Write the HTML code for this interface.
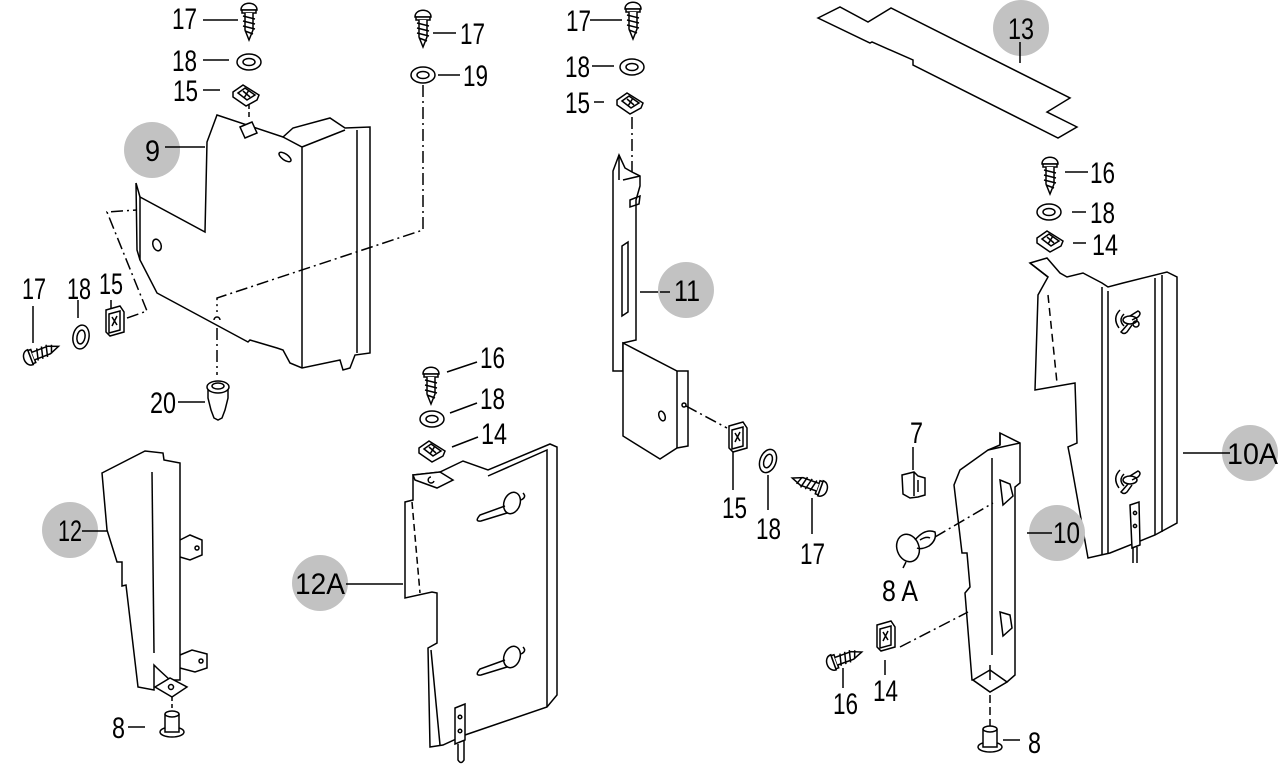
<!DOCTYPE html>
<html><head><meta charset="utf-8"><style>
html,body{margin:0;padding:0;background:#fff;}
svg{display:block;}
text{font-family:"Liberation Sans",sans-serif;font-size:30px;fill:#000;}
</style></head><body>
<svg width="1280" height="768" viewBox="0 0 1280 768" xmlns="http://www.w3.org/2000/svg">
<defs>
<g id="sv" stroke="#000" stroke-width="1.5" fill="#fff">
<path d="M-8,8 C-8,-1 8,-1 8,8 Z"/>
<rect x="-7" y="8" width="14" height="3"/>
<path d="M-4,11 L-4,28 L0,38 L4,28 L4,11"/>
<path d="M-6,14 L6,17 M-6,19 L6,22 M-6,24 L6,27 M-4,29 L4,32" fill="none"/>
</g>
<g id="w" stroke="#000" stroke-width="1.5" fill="#fff">
<ellipse rx="12" ry="8"/><ellipse rx="6" ry="3.5"/>
</g>
<g id="c" stroke="#000" stroke-width="1.5" fill="#fff">
<path d="M-13,-3 L-3,-10 L13,0 L11,5 L0,11 L-13,2 Z"/>
<path d="M-8,-2 L-1,-7 L9,0 L1,5 Z"/>
<path d="M-3,-4 L4,2 M3,-5 L-2,3" fill="none"/>
</g>
<g id="cf" stroke="#000" stroke-width="1.5" fill="#fff">
<path d="M-9,-12 L5,-16 L9,-10 L9,10 L-5,14 L-9,10 Z"/>
<path d="M-6,-8 L5,-11 L5,8 L-6,11 Z"/>
<path d="M-3,-5 L2,3 M2,-6 L-3,4" fill="none"/>
</g>
<g id="p8" stroke="#000" stroke-width="1.5" fill="#fff">
<ellipse cx="0" cy="12" rx="12" ry="5"/>
<path d="M-7,-6 L-7,12 L7,12 L7,-6"/>
<ellipse cx="0" cy="-6" rx="7" ry="3"/>
</g>
</defs>

<g stroke="#000" stroke-width="1.5" fill="none">
<!-- ============ Part 9 group ============ -->
<path d="M217,115 L283,137 L293,128 L330,118 L345,128 L370,127 L370,353 L355,355 L350,368 L343,370 L340,360 L302,368 L290,363 L283,350 L277,348 L250,340 L248,342 L157,293 L140,260 L140,197 L205,232 L207,142 Z" fill="#fff"/>
<path d="M136,183 L140,197 M136,183 L137,250 L140,260"/>
<path d="M302,147 L302,368 M357,130 L357,353 M283,137 L302,147 L345,130"/>
<path d="M240,127 L252,122 L257,133 L245,138 Z" fill="#fff"/>
<ellipse cx="285" cy="157" rx="7" ry="3" transform="rotate(35 285 157)"/>
<ellipse cx="157" cy="245" rx="4" ry="6" transform="rotate(-20 157 245)"/>
<path d="M214,320 a3,3 0 1 1 6,0"/>
<!-- dash lines 9 -->
<path d="M423,85 L423,230 L217,298 L217,312" stroke-dasharray="12 4 2 4"/>
<path d="M249,104 L249,117" stroke-dasharray="5 3"/>
<path d="M217,328 L217,375" stroke-dasharray="12 4 2 4"/>
<path d="M127,318 L147,311 L107,212 L137,210" stroke-dasharray="12 4 2 4"/>
<!-- top fasteners -->
<use href="#sv" transform="translate(249,2)"/>
<line x1="203" y1="20" x2="238" y2="20"/>
<use href="#w" transform="translate(249,62)"/>
<line x1="203" y1="60" x2="229" y2="60"/>
<use href="#c" transform="translate(246,95)"/>
<line x1="203" y1="90" x2="220" y2="90"/>
<use href="#sv" transform="translate(423,9)"/>
<line x1="433" y1="33" x2="456" y2="33"/>
<use href="#w" transform="translate(423,75)"/>
<line x1="438" y1="75" x2="460" y2="75"/>
<line x1="165" y1="147" x2="205" y2="147"/>
<!-- left fasteners -->
<use href="#sv" transform="translate(23,360) rotate(-111)"/>
<line x1="33" y1="306" x2="33" y2="343"/>
<ellipse cx="81" cy="337" rx="8" ry="12" transform="rotate(10 81 337)" fill="#fff"/>
<ellipse cx="81" cy="337" rx="4" ry="7" transform="rotate(10 81 337)"/>
<line x1="78" y1="300" x2="78" y2="318"/>
<use href="#cf" transform="translate(115,322)"/>
<line x1="111" y1="300" x2="111" y2="308"/>
<!-- 20 -->
<line x1="178" y1="402" x2="205" y2="402"/>
<path d="M208,387 L208,398 L211,410 L214,418 L218,420 L222,418 L225,410 L228,398 L228,387" fill="#fff"/>
<ellipse cx="218" cy="387" rx="11" ry="6" fill="#fff"/>
<ellipse cx="218" cy="386" rx="6" ry="3"/>

<!-- ============ Part 12 ============ -->
<path d="M102,473 L145,451 L163,453 L164,460 L180,463 L180,680 L170,680 L157,668 L154,665 L154,690 L138,687 L126,585 L122,586 L122,562 L117,562 L107,530 Z" fill="#fff"/>
<path d="M152,472 L154,653"/>
<path d="M180,540 L190,535 L202,540 L202,555 L190,560 L180,557"/>
<circle cx="197" cy="548" r="2"/>
<path d="M180,655 L192,650 L207,654 L207,668 L195,672 L180,668"/>
<circle cx="201" cy="661" r="2"/>
<path d="M155,687 L170,678 L187,687 L172,697 Z" fill="#fff"/>
<circle cx="171" cy="687" r="2.5"/>
<path d="M172,697 L172,708" stroke-dasharray="4 3"/>
<use href="#p8" transform="translate(172,720)"/>
<line x1="128" y1="727" x2="145" y2="727"/>
<line x1="78" y1="531" x2="107" y2="531"/>

<!-- ============ Part 12A ============ -->
<path d="M413,475 L440,472 L463,461 L488,470 L550,444 L557,447 L557,695 L547,707 L465,735 L443,745 L430,747 L428,648 L437,643 L437,593 L432,592 L405,598 L405,502 L413,500 Z" fill="#fff"/>
<path d="M488,476 L547,450 L547,707"/>
<path d="M431,650 L440,745"/>
<path d="M412,502 L420,593" stroke-dasharray="7 4"/>
<path d="M413,475 L440,472 L453,480 L437,488 L415,480 Z" fill="#fff"/>
<path d="M431,477 a3,3 0 1 0 3,4"/>
<!-- keyholes -->
<ellipse cx="512" cy="503" rx="8" ry="11" transform="rotate(20 512 503)" fill="#fff"/>
<path d="M505,506 L480,515 Q474,522 481,521 L507,513"/>
<path d="M523,493 q4,4 -2,7"/>
<ellipse cx="512" cy="657" rx="8" ry="11" transform="rotate(20 512 657)" fill="#fff"/>
<path d="M505,660 L480,669 Q474,676 481,675 L507,667"/>
<path d="M523,647 q4,4 -2,7"/>
<!-- strap -->
<path d="M455,708 L465,704 L465,740 L455,744 Z" fill="#fff"/>
<circle cx="460" cy="717" r="1.8"/><circle cx="460" cy="731" r="1.8"/>
<path d="M458,744 L458,760 Q461,765 464,760 L464,740"/>
<line x1="348" y1="584" x2="403" y2="584"/>
<!-- 12A fasteners -->
<use href="#sv" transform="translate(431,366)"/>
<line x1="447" y1="372" x2="477" y2="362"/>
<use href="#w" transform="translate(432,419)"/>
<line x1="450" y1="413" x2="477" y2="403"/>
<use href="#c" transform="translate(432,451)"/>
<line x1="452" y1="447" x2="478" y2="437"/>

<!-- ============ Part 11 ============ -->
<path d="M613,171 L619,155 L625,168 L632,172 L640,176 L640,186 L636,200 L636,340 L623,343 L623,371 L613,371 Z" fill="#fff"/>
<path d="M619,155 L619,180 M623,180 L640,176 M630,200 L640,196 L639,204 L630,207 Z"/>
<path d="M622,246 L628,242 L628,312 L622,316 Z"/>
<path d="M623,343 L677,371 L688,371 L688,446 L677,448 L660,459 L623,436 Z" fill="#fff"/>
<path d="M677,371 L677,448"/>
<ellipse cx="662" cy="416" rx="3" ry="5" transform="rotate(-20 662 416)"/>
<circle cx="684" cy="405" r="2"/>
<path d="M686,406 L727,428" stroke-dasharray="12 4 2 4"/>
<path d="M632,117 L632,172" stroke-dasharray="12 4 2 4"/>
<line x1="640" y1="292" x2="670" y2="292"/>
<use href="#sv" transform="translate(633,1)"/>
<line x1="590" y1="20" x2="622" y2="20"/>
<use href="#w" transform="translate(632,67)"/>
<line x1="592" y1="66" x2="614" y2="66"/>
<use href="#c" transform="translate(630,103)"/>
<line x1="594" y1="102" x2="604" y2="102"/>
<use href="#cf" transform="translate(738,438)"/>
<line x1="733" y1="452" x2="733" y2="490"/>
<ellipse cx="768" cy="461" rx="8" ry="12" transform="rotate(20 768 461)" fill="#fff"/>
<ellipse cx="768" cy="461" rx="4" ry="7" transform="rotate(20 768 461)"/>
<line x1="768" y1="475" x2="768" y2="510"/>
<use href="#sv" transform="translate(828,491) rotate(110)"/>
<line x1="812" y1="498" x2="812" y2="534"/>

<!-- ============ Part 13 ============ -->
<path d="M818,18 L840,7 L868,22 L891,8 L1070,98 L1047,112 L1077,127 L1058,138 L913,65 L913,60 L872,42 L870,43 Z" fill="#fff"/>
<line x1="1020" y1="42" x2="1020" y2="63"/>

<!-- ============ Part 10A ============ -->
<path d="M1030,263 L1047,258 L1060,273 L1067,277 L1083,273 L1102,283 L1108,287 L1123,283 L1167,272 L1177,277 L1177,523 L1155,535 L1110,553 L1088,558 L1070,457 L1068,447 L1077,443 L1075,383 L1035,390 L1038,295 L1048,277 Z" fill="#fff"/>
<path d="M1030,263 L1048,277"/>
<path d="M1102,287 L1102,555 M1108,291 L1108,553 M1155,278 L1155,535 M1162,275 L1162,532"/>
<path d="M1048,295 L1057,383" stroke-dasharray="8 5"/>
<!-- wing screws -->
<path d="M1120,310 q-8,8 -1,18 M1124,314 q-6,6 0,12" />
<ellipse cx="1130" cy="320" rx="7" ry="4" fill="#fff"/>
<path d="M1130,316 l8,-5 q4,2 0,6 l-6,3 M1128,324 l-7,8 q3,3 6,0 l5,-7"/>
<circle cx="1136" cy="324" r="3"/>
<path d="M1120,470 q-8,8 -1,18 M1124,474 q-6,6 0,12"/>
<ellipse cx="1130" cy="480" rx="7" ry="4" fill="#fff"/>
<path d="M1130,476 l8,-5 q4,2 0,6 l-6,3 M1128,484 l-7,8 q3,3 6,0 l5,-7"/>
<!-- strap -->
<path d="M1130,505 L1139,502 L1140,545 L1132,548 Z" fill="#fff"/>
<circle cx="1135" cy="513" r="1.6"/><circle cx="1135" cy="526" r="1.6"/>
<path d="M1133,548 L1133,563 M1137,547 L1137,563"/>
<line x1="1183" y1="453" x2="1222" y2="453"/>
<!-- 10A fasteners -->
<use href="#sv" transform="translate(1050,156)"/>
<line x1="1065" y1="172" x2="1088" y2="172"/>
<use href="#w" transform="translate(1049,212)"/>
<line x1="1072" y1="212" x2="1086" y2="212"/>
<use href="#c" transform="translate(1050,241)"/>
<line x1="1073" y1="243" x2="1086" y2="243"/>

<!-- ============ Part 10 ============ -->
<path d="M1000,433 L1020,443 L1020,483 L1015,487 L1015,675 L1007,682 L990,692 L973,680 L972,680 L965,593 L970,587 L967,553 L962,553 L954,485 L960,470 L988,450 L1000,445 Z" fill="#fff"/>
<path d="M1000,433 L1000,445 M992,458 L992,655 M988,450 L1020,443"/>
<path d="M1000,480 L1010,484 L1013,496 L1003,505 Z M1000,612 L1010,615 L1012,628 L1003,636 Z"/>
<path d="M973,680 L990,670 L1007,682 L990,692 Z" fill="#fff"/>
<path d="M990,680 L990,665"/>
<path d="M990,695 L990,732" stroke-dasharray="8 4"/>
<use href="#p8" transform="translate(990,735)"/>
<line x1="1003" y1="740" x2="1020" y2="740"/>
<line x1="1027" y1="533" x2="1052" y2="533"/>
<path d="M935,537 L993,503" stroke-dasharray="12 4 2 4"/>
<path d="M900,647 L968,612" stroke-dasharray="12 4 2 4"/>
<!-- 7 -->
<path d="M902,475 L914,472 L918,476 L925,478 L925,495 L918,497 L910,498 L903,494 Z" fill="#fff"/>
<path d="M914,472 L914,496 M918,480 L918,492"/>
<line x1="913" y1="447" x2="913" y2="470"/>
<!-- 8A -->
<ellipse cx="908" cy="548" rx="11" ry="14" transform="rotate(-20 908 548)" fill="#fff"/>
<path d="M915,540 q10,-12 20,-8 q2,8 -6,14 q-8,4 -12,2"/>
<path d="M920,540 q6,-4 10,-2"/>
<line x1="903" y1="568" x2="906" y2="562"/>
<!-- 14 -->
<use href="#cf" transform="translate(886,637)"/>
<line x1="885" y1="660" x2="885" y2="675"/>
<!-- 16 -->
<use href="#sv" transform="translate(826,665) rotate(-110)"/>
<line x1="843" y1="668" x2="843" y2="688"/>
</g>

<!-- grey circles -->
<g fill="#c2c2c2">
<circle cx="152" cy="150" r="28"/>
<circle cx="686" cy="290" r="28"/>
<circle cx="70" cy="530" r="28"/>
<circle cx="320" cy="583" r="28"/>
<circle cx="1021" cy="28" r="28"/>
<circle cx="1250" cy="453" r="28"/>
<circle cx="1057" cy="533" r="28"/>
</g>
<g stroke="#000" stroke-width="1.5">
<line x1="165" y1="147" x2="180" y2="147"/>
<line x1="660" y1="292" x2="670" y2="292"/>
<line x1="82" y1="531" x2="98" y2="531"/>
<line x1="346" y1="584" x2="348" y2="584"/>
<line x1="1020" y1="42" x2="1020" y2="56"/>
<line x1="1222" y1="453" x2="1230" y2="453"/>
<line x1="1029" y1="533" x2="1052" y2="533"/>
</g>

<!-- labels -->
<g>
<text x="172" y="29" textLength="25" lengthAdjust="spacingAndGlyphs">17</text>
<text x="172" y="71" textLength="25" lengthAdjust="spacingAndGlyphs">18</text>
<text x="173" y="101" textLength="25" lengthAdjust="spacingAndGlyphs">15</text>
<text x="145" y="161" textLength="15" lengthAdjust="spacingAndGlyphs">9</text>
<text x="460" y="44" textLength="25" lengthAdjust="spacingAndGlyphs">17</text>
<text x="463" y="86" textLength="25" lengthAdjust="spacingAndGlyphs">19</text>
<text x="22" y="299" textLength="24" lengthAdjust="spacingAndGlyphs">17</text>
<text x="67" y="299" textLength="24" lengthAdjust="spacingAndGlyphs">18</text>
<text x="99" y="294" textLength="24" lengthAdjust="spacingAndGlyphs">15</text>
<text x="150" y="413" textLength="26" lengthAdjust="spacingAndGlyphs">20</text>
<text x="58" y="541" textLength="24" lengthAdjust="spacingAndGlyphs">12</text>
<text x="112" y="738" textLength="13" lengthAdjust="spacingAndGlyphs">8</text>
<text x="480" y="368" textLength="25" lengthAdjust="spacingAndGlyphs">16</text>
<text x="480" y="409" textLength="25" lengthAdjust="spacingAndGlyphs">18</text>
<text x="481" y="444" textLength="26" lengthAdjust="spacingAndGlyphs">14</text>
<text x="295" y="594" textLength="50" lengthAdjust="spacingAndGlyphs">12A</text>
<text x="566" y="31" textLength="25" lengthAdjust="spacingAndGlyphs">17</text>
<text x="565" y="77" textLength="25" lengthAdjust="spacingAndGlyphs">18</text>
<text x="565" y="113" textLength="25" lengthAdjust="spacingAndGlyphs">15</text>
<text x="674" y="301" textLength="26" lengthAdjust="spacingAndGlyphs">11</text>
<text x="722" y="518" textLength="25" lengthAdjust="spacingAndGlyphs">15</text>
<text x="756" y="539" textLength="25" lengthAdjust="spacingAndGlyphs">18</text>
<text x="800" y="564" textLength="25" lengthAdjust="spacingAndGlyphs">17</text>
<text x="1008" y="39" textLength="26" lengthAdjust="spacingAndGlyphs">13</text>
<text x="1090" y="183" textLength="25" lengthAdjust="spacingAndGlyphs">16</text>
<text x="1090" y="223" textLength="25" lengthAdjust="spacingAndGlyphs">18</text>
<text x="1092" y="255" textLength="26" lengthAdjust="spacingAndGlyphs">14</text>
<text x="1227" y="464" textLength="51" lengthAdjust="spacingAndGlyphs">10A</text>
<text x="910" y="443" textLength="13" lengthAdjust="spacingAndGlyphs">7</text>
<text x="1053" y="543" textLength="27" lengthAdjust="spacingAndGlyphs">10</text>
<text x="882" y="601" textLength="36" lengthAdjust="spacingAndGlyphs">8 A</text>
<text x="873" y="701" textLength="25" lengthAdjust="spacingAndGlyphs">14</text>
<text x="833" y="714" textLength="25" lengthAdjust="spacingAndGlyphs">16</text>
<text x="1028" y="753" textLength="13" lengthAdjust="spacingAndGlyphs">8</text>
</g>
</svg>
</body></html>
